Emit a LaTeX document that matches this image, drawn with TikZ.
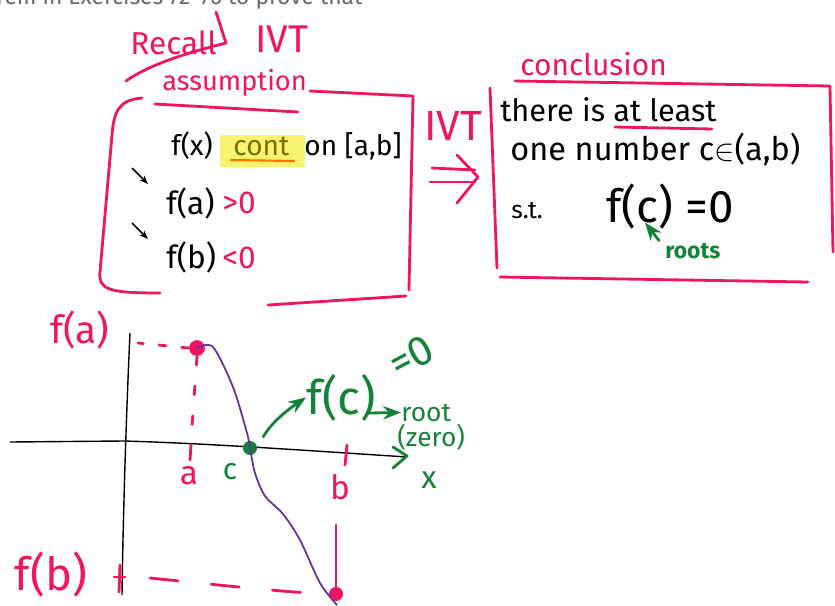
\documentclass[tikz,border=0pt]{standalone}
\usepackage{fontspec}
\setmainfont{Fira Sans}
\usetikzlibrary{arrows.meta, positioning, calc}
\definecolor{hotpink}{RGB}{240,20,100}
\definecolor{penGreen}{RGB}{20,130,55}
\definecolor{penPurple}{RGB}{95,50,160}
\definecolor{hiYellow}{RGB}{248,244,110}
\definecolor{olive}{RGB}{120,110,0}

\begin{document}
\begin{tikzpicture}[x=0.2mm, y=-0.2mm, >=Stealth,
  pen/.style={draw=hotpink, line width=1.6pt, line cap=round, line join=round},
  gpen/.style={draw=penGreen, line width=1.6pt, line cap=round, line join=round},
  hand/.style={font=\fontsize{#1}{#1}\selectfont, inner sep=0pt},
  pinktext/.style={text=hotpink},
  greentext/.style={text=penGreen},
  dot/.style={circle, inner sep=0pt, minimum size=#1}]
\useasboundingbox (0,0) rectangle (835,605);

% clipped line of the page above
\begin{scope}
\clip (0,0) rectangle (835,605);
\node[hand=13, text=gray!80!black, anchor=base west] (pagetext) at (-4,4)
  {rem in Exercises 72--76 to prove that};
\end{scope}

% heading
\node[hand=18, pinktext, anchor=south west] (recall) at (130,55) {Recall};
\node[hand=22, pinktext, anchor=south west] (ivtTop) at (255,53) {IVT};
\draw[pen] (216,12) -- (226,43) .. controls (190,52) and (150,64) .. (126,81);

% assumption box
\node[hand=15.5, pinktext, anchor=south west] (assume) at (162,97) {assumption};
\draw[pen] (155,104) -- (298,112);
\draw[pen] (142,98) .. controls (118,100) and (114,112) .. (112,135)
  -- (100,272) .. controls (98,290) and (110,293) .. (160,293);
\draw[pen] (310,91) -- (413,96) -- (409,290);
\draw[pen] (268,305) -- (406,296);

\fill[hiYellow] (220,135) rectangle (305,167);
\node[hand=16, anchor=base west] (fx) at (171,155) {f(x)};
\node[hand=16, text=olive, anchor=base west] (cont) at (233,155) {cont};
\draw[draw=orange!90!red, line width=1.2pt, line cap=round] (231,160) -- (294,161);
\node[hand=16, anchor=base west] (onab) at (304,155) {on [a,b]};

\node[hand=18, anchor=base west] (fa) at (166,214) {f(a)};
\node[hand=18, pinktext, anchor=base west] (gtzero) at (222,213) {>0};
\node[hand=18, anchor=base west] (fb) at (166,268) {f(b)};
\node[hand=18, pinktext, anchor=base west] (ltzero) at (222,268) {<0};
\draw[-{Stealth[length=5pt]}, line width=0.9pt] ($(fa.base west)+(-34,-46)$) -- ($(fa.base west)+(-18,-30)$);
\draw[-{Stealth[length=5pt]}, line width=0.9pt] ($(fb.base west)+(-34,-45)$) -- ($(fb.base west)+(-18,-29)$);

% implication
\node[hand=24, pinktext, anchor=south west] (ivt) at (424,141) {IVT};
\draw[pen] (432,168) -- (475,170);
\draw[pen] (430,182) -- (475,182);
\draw[pen] (457,155) -- (478,177) -- (457,203);

% conclusion box
\node[hand=17, pinktext, anchor=south west] (concl) at (520,76) {conclusion};
\draw[pen] (515,81) -- (830,86) -- (833,252);
\draw[pen] (490,88) -- (497,268);
\draw[pen] (500,277) -- (808,282);

\node[hand=17.5, anchor=base west] (there) at (500,121) {there is at least};
\draw[pen] (615,127) -- (712,129);
\node[hand=18.5, anchor=base west] (onenum) at (510,160) {one number c$\in$(a,b)};
\node[hand=14, anchor=base west] (st) at (511,218) {s.t.};
\node[hand=26, anchor=base west] (fcEq) at (606,222) {f(c) =0};
\node[greentext, inner sep=0pt, font=\bfseries\fontsize{13}{13}\selectfont, anchor=base west] (roots) at (665,258) {roots};
\draw[gpen, ->] (roots.north west) ++(-6,-2) -- ++(-14,-18);

% graph
\draw[thick] (130,333) .. controls (126,420) and (123,520) .. (122,595);
\draw[thick] (10,442) -- (123,441) .. controls (200,443) and (300,450) .. (407,457);
\draw[gpen] (393,447) -- (407,456) -- (393,468);
\node[hand=18, greentext] (xLab) at (429,480) {x};

\node[dot=9pt, fill=hotpink] (pa) at (197,348) {};
\node[dot=8pt, fill=hotpink] (pb) at (336,594) {};
\node[dot=8pt, fill=penGreen] (cdot) at (250,448) {};

\node[hand=22, pinktext] (faLab) at (80,330) {f(a)};
\node[hand=26, pinktext] (fbLab) at (51,574) {f(b)};
\node[hand=19, pinktext] (aLab) at (189,476) {a};
\node[hand=19, pinktext] (bLab) at (340,487) {b};
\node[hand=17, greentext] (cLab) at (230,472) {c};

\draw[pen, dash pattern=on 4pt off 9pt] (pa.west) -- (138,343);
\draw[pen, dash pattern=on 5pt off 12pt] (pa.south) -- (191,440);
\draw[pen] (191,445) -- (190,460);
\draw[pen] (347,445) -- (345,465);
\draw[pen] (336,525) -- (pb.north);
\draw[pen] (120,565) -- (119,592);
\draw[pen] (114,577) -- (125,577);
\draw[pen, dash pattern=on 16pt off 19pt] (150,578) .. controls (220,585) and (280,592) .. (pb.west);

\draw[draw=penPurple, line width=1pt] plot[smooth, tension=0.5] coordinates
  {(pa.center) (213,347) (233,387) (247,433) (cdot.center) (255,473)
   (265,496) (283,514) (300,540) (320,583) (337,605)};

% root annotation
\node[hand=27, greentext, anchor=base west] (fcLab) at (306,414) {f(c)};
\node[hand=24, greentext, rotate=28, anchor=base west] (eqZero) at (398,380) {=0};
\draw[gpen, ->] (cdot.north east) ++(8,-6) .. controls (270,425) and (283,413) .. (fcLab.west);
\node[hand=15, greentext, anchor=base west] (rootLab) at (401,421) {root};
\node[hand=15, greentext, anchor=base west] (zeroLab) at (397,446) {(zero)};
\draw[gpen, ->] (368,413) -- (rootLab.west);
\end{tikzpicture}
\end{document}
